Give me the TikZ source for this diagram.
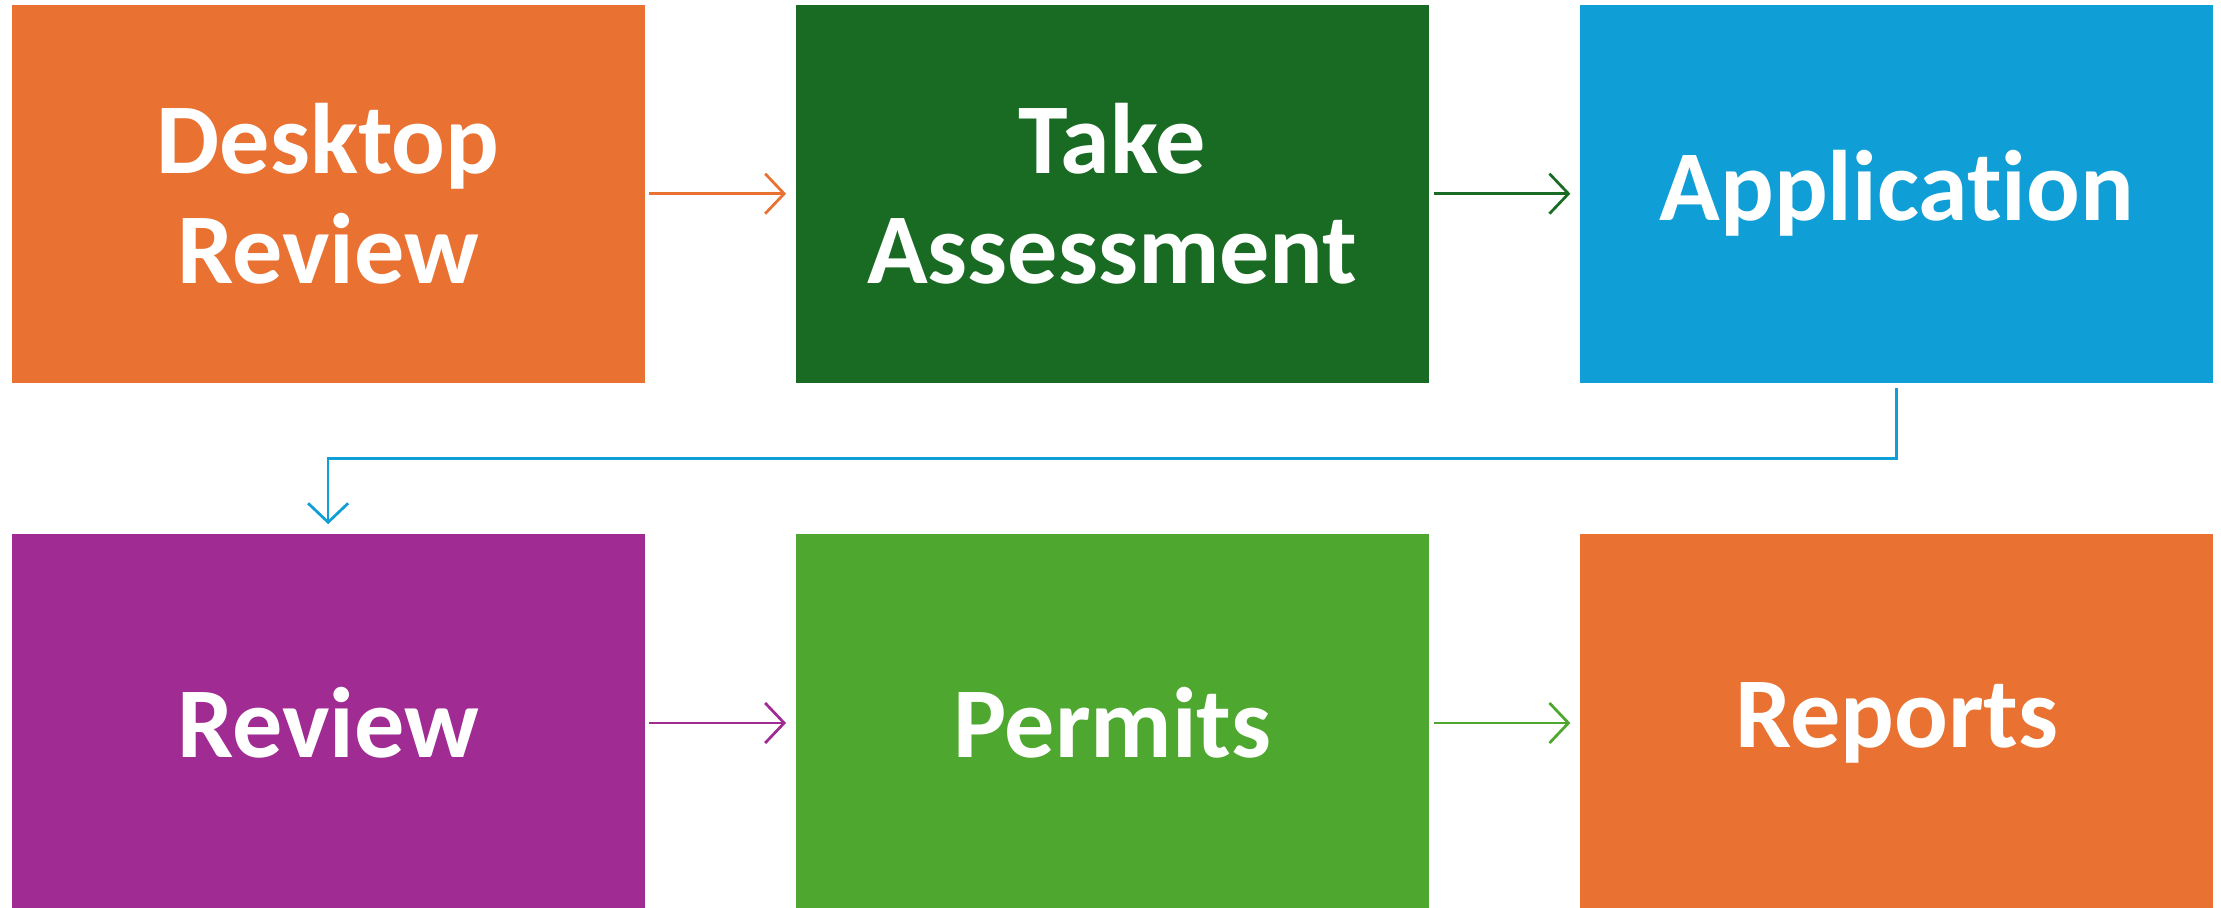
\documentclass[tikz,border=0pt]{standalone}
\usepackage{fontspec}
\setmainfont{Carlito}[Ligatures=NoCommon]
\usetikzlibrary{positioning}
\usetikzlibrary{arrows.meta}
\definecolor{orng}{HTML}{E97132}
\definecolor{dkgreen}{HTML}{196B24}
\definecolor{blu}{HTML}{0F9ED5}
\definecolor{purp}{HTML}{A02B93}
\definecolor{ltgreen}{HTML}{4EA72E}
\begin{document}
\begin{tikzpicture}[
		stage/.style={fill=#1,minimum width=12.66cm,minimum height=7.56cm,inner sep=0pt,align=center,text=white,font=\bfseries\fontsize{57}{63}\selectfont},
		flow/.style={draw=#1,line width=0.055cm,-{Straight Barb[length=0.38cm,width=0.8cm]},shorten <=0.09cm,shorten >=0.19cm},
		node distance=3.012cm]
	\useasboundingbox (0,0) rectangle (44.42,-18.16);
		%Top row
			\node[stage=orng] (desktop) at (6.562,-3.874) {Desktop\\Review};
			\node[stage=dkgreen,right=of desktop] (take) {Take\\Assessment};
			\node[stage=blu,right=of take] (application) {Application};
		%Bottom row
			\node[stage=purp,below=of desktop] (review) {Review};
			\node[stage=ltgreen,right=of review] (permits) {Permits};
			\node[stage=orng,right=of permits] (reports) {Reports};
		%Arrows
			\draw[flow=orng] (desktop) -- (take);
			\draw[flow=dkgreen] (take) -- (application);
			\coordinate[below=1.506cm of desktop] (bend);
			\draw[flow=blu] (application) |- (bend) -- (review);
			\draw[flow=purp] (review) -- (permits);
			\draw[flow=ltgreen] (permits) -- (reports);
	\end{tikzpicture}
\end{document}
